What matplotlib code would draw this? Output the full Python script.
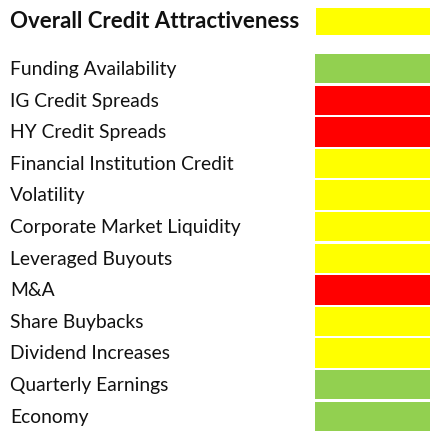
import matplotlib
matplotlib.use("Agg")
import matplotlib.pyplot as plt
import matplotlib.transforms as mtransforms

title_label = "Overall Credit Attractiveness"
title_status = "yellow"

categories = [
    "Funding Availability",
    "IG Credit Spreads",
    "HY Credit Spreads",
    "Financial Institution Credit",
    "Volatility",
    "Corporate Market Liquidity",
    "Leveraged Buyouts",
    "M&A",
    "Share Buybacks",
    "Dividend Increases",
    "Quarterly Earnings",
    "Economy",
]
statuses = ["green", "red", "red", "yellow", "yellow", "yellow",
            "yellow", "red", "yellow", "yellow", "green", "green"]

palette = {"green": "#92D050", "red": "#FF0000", "yellow": "#FFFF00"}

W, H = 430, 432
fig = plt.figure(figsize=(W / 100, H / 100), dpi=100)
fig.patch.set_facecolor("white")

font = "Lato"
txt_color = "#111111"

# Title row
axt = fig.add_axes([316 / W, (H - 35) / H, 114 / W, 27 / H])
axt.barh([0], [1], height=1.0, color=palette[title_status], edgecolor="none")
axt.set_xlim(0, 1)
axt.set_ylim(-0.5, 0.5)
axt.axis("off")
trt = mtransforms.blended_transform_factory(fig.transFigure, axt.transData)
axt.text(10 / W, -0.25, title_label, transform=trt, ha="left", va="baseline",
         fontsize=16, fontweight="bold", family=font, color=txt_color)

# Indicator rows
ax = fig.add_axes([315 / W, 0, 115 / W, (H - 53) / H])
ys = list(range(len(categories)))
ax.barh(ys, [1] * len(ys), height=0.93,
        color=[palette[s] for s in statuses], edgecolor="none")
ax.set_xlim(0, 1)
ax.set_ylim(len(categories) - 0.5, -0.5)
ax.axis("off")
tr = mtransforms.blended_transform_factory(fig.transFigure, ax.transData)
for y, lab in zip(ys, categories):
    ax.text(10 / W, y + 0.2, lab, transform=tr, ha="left", va="baseline",
            fontsize=13.9, family=font, color=txt_color)

fig.savefig("out.png", dpi=100, facecolor="white")
